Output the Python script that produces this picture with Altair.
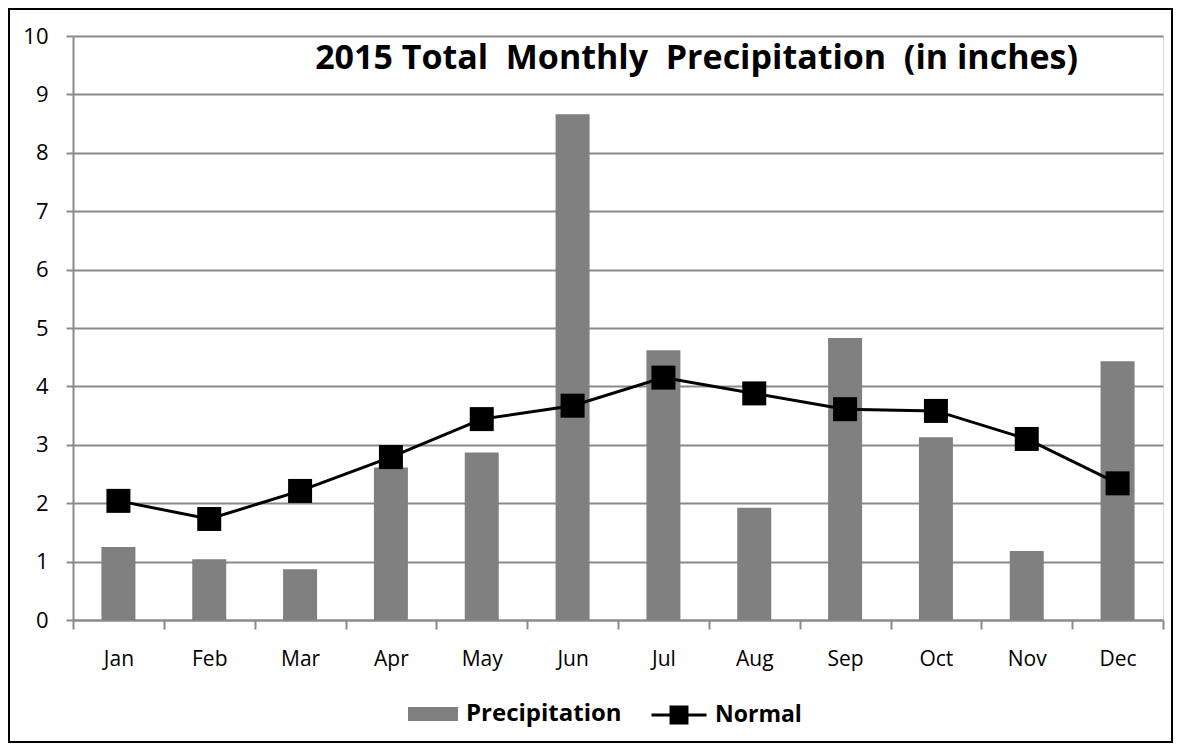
import altair as alt
import pandas as pd

months = ["Jan", "Feb", "Mar", "Apr", "May", "Jun", "Jul", "Aug", "Sep", "Oct", "Nov", "Dec"]
precipitation = [1.25, 1.04, 0.87, 2.61, 2.87, 8.66, 4.62, 1.92, 4.83, 3.13, 1.18, 4.43]
normal = [2.04, 1.73, 2.21, 2.79, 3.44, 3.67, 4.15, 3.88, 3.61, 3.58, 3.10, 2.34]
y_ticks = list(range(0, 11))

df = pd.DataFrame({
    "month": months,
    "Precipitation": precipitation,
    "Normal": normal,
    "s1": ["Precipitation"] * 12,
    "s2": ["Normal"] * 12,
})

W, H = 1090, 584
FONT = "Open Sans"
GRID = "#8a8a8a"

x_enc = alt.X("month:N", sort=months, title=None,
              scale=alt.Scale(paddingInner=0, paddingOuter=0),
              axis=alt.Axis(labelAngle=0, tickBand="extent", tickSize=9,
                            labelPadding=19, labelFontSize=21, labelFont=FONT,
                            labelColor="black", domainColor=GRID, tickColor=GRID,
                            domainWidth=2, tickWidth=2, grid=False))

y_scale = alt.Scale(domain=[0, 10], nice=False)

bars = alt.Chart(df).mark_bar(size=34, color="#808080").encode(
    x=x_enc,
    y=alt.Y("Precipitation:Q", scale=y_scale, title=None,
            axis=alt.Axis(values=y_ticks, format="d", tickSize=7, labelPadding=18,
                          labelFontSize=22, labelFont=FONT, labelColor="black",
                          domainColor=GRID, tickColor=GRID, gridColor=GRID,
                          domainWidth=2, tickWidth=2, gridWidth=2, grid=True)),
    fill=alt.Fill("s1:N", scale=alt.Scale(domain=["Precipitation"], range=["#808080"]),
                  legend=alt.Legend(orient="none", legendX=335, legendY=653, title=None,
                                    padding=0, symbolType="M-1,-0.28H1V0.28H-1Z",
                                    symbolSize=2500, symbolStrokeWidth=0, labelOffset=8,
                                    labelFontSize=24, labelFontWeight="bold",
                                    labelFont=FONT, labelColor="black")),
)

line = alt.Chart(df).mark_line(strokeWidth=3, color="black").encode(
    x=alt.X("month:N", sort=months),
    y=alt.Y("Normal:Q", scale=y_scale),
    stroke=alt.Stroke("s2:N", scale=alt.Scale(domain=["Normal"], range=["black"]),
                      legend=alt.Legend(orient="none", legendX=577, legendY=650, title=None,
                                        padding=0,
                                        symbolType="M-1,0H1M-0.29,-0.29H0.29V0.29H-0.29Z",
                                        symbolSize=3025, symbolStrokeWidth=3,
                                        symbolFillColor="black", labelOffset=7,
                                        labelFontSize=23, labelFontWeight="bold",
                                        labelFont=FONT, labelColor="black")),
)

points = alt.Chart(df).mark_point(shape="square", filled=True, size=576, color="black", opacity=1).encode(
    x=alt.X("month:N", sort=months),
    y=alt.Y("Normal:Q", scale=y_scale),
)

border = alt.Chart(pd.DataFrame({"b": [0]})).mark_rect(
    filled=False, stroke="black", strokeWidth=2
).encode(
    x=alt.value(-64), x2=alt.value(W + 9), y=alt.value(-27), y2=alt.value(H + 122)
)

chart = alt.layer(bars, line, points, border).properties(
    width=W, height=H,
    padding={"left": 65, "top": 28, "right": 12, "bottom": 125},
    autosize=alt.AutoSizeParams(type="none"),
    title=alt.TitleParams(
        "2015 Total\u00a0 Monthly\u00a0 Precipitation\u00a0 (in inches)",
        anchor="end", frame="group", orient="top", dx=-85, dy=95,
        baseline="alphabetic", font=FONT, fontSize=34, fontWeight="bold", color="black",
        offset=0),
).configure_view(stroke=None).configure(background="white")

chart.save("out.html", embed_options={"renderer": "svg", "actions": False})
